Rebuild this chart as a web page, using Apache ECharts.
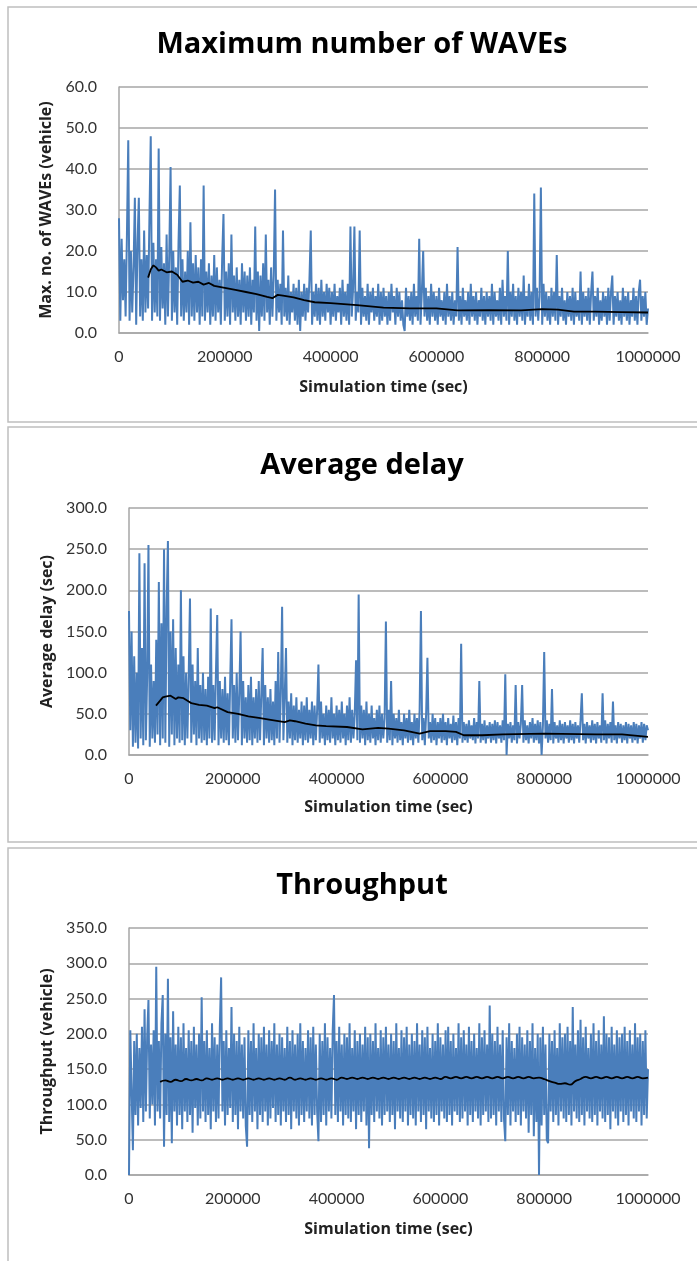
<!DOCTYPE html>
<html>
<head>
    <meta charset="utf-8">
    <title>Simulation results</title>
    <script src="https://cdn.jsdelivr.net/npm/echarts@6/dist/echarts.min.js"></script>
    <style>
        html, body { margin: 0; padding: 0; background: #fff; }
    </style>
</head>
<body>
    <div id="main" style="width: 697px;height:1261px;"></div>
    <script type="text/javascript">
        // sampling step of the raw series (sec)
        var STEP = 2500;

        // Maximum number of WAVEs (vehicle), one value per STEP, 20 values per row
        var wavesRaw = [
            28, 3, 23, 8, 18, 4, 24, 47, 3, 20, 5, 16, 33, 2, 22, 33, 4, 18, 3, 25,
            5, 19, 6, 28, 48, 3, 22, 5, 18, 4, 45, 3, 21, 6, 17, 2, 24, 4, 19, 40.5,
            3, 20, 5, 16, 2, 22, 36, 4, 18, 3, 15, 5, 20, 2, 27, 4, 17, 3, 19, 5,
            16, 2, 18, 4, 36, 3, 15, 5, 17, 2, 14, 4, 19, 3, 16, 5, 13, 2, 18, 29,
            3, 15, 4, 17, 2, 24, 5, 14, 3, 16, 4, 13, 2, 17, 5, 15, 3, 14, 4, 16,
            2, 13, 5, 26, 3, 15, 0.5, 14, 4, 17, 3, 24, 5, 13, 2, 16, 4, 14, 35, 3,
            13, 5, 12, 2, 25, 4, 11, 3, 14, 2, 10, 5, 12, 3, 11, 2, 13, 0.5, 10, 4,
            12, 3, 11, 5, 13, 25, 2, 10, 4, 12, 3, 11, 2, 13, 4, 10, 3, 12, 5, 11,
            2, 10, 4, 12, 3, 9, 5, 11, 2, 13, 4, 10, 3, 12, 2, 26, 4, 11, 26, 3,
            10, 5, 25, 2, 11, 4, 9, 3, 12, 2, 10, 5, 11, 3, 9, 4, 12, 2, 10, 3,
            11, 4, 9, 2, 10, 3, 12, 5, 9, 2, 11, 4, 10, 3, 8, 2, 0.5, 11, 4, 9,
            3, 10, 2, 12, 4, 9, 3, 23, 2, 10, 20, 4, 11, 3, 9, 2, 12, 4, 10, 3,
            9, 2, 11, 4, 8, 3, 10, 2, 12, 4, 9, 3, 10, 2, 8, 4, 21, 3, 9, 2,
            11, 4, 8, 3, 10, 2, 12, 4, 9, 3, 10, 2, 8, 4, 11, 3, 9, 2, 10, 4,
            9, 3, 12, 2, 10, 4, 8, 3, 11, 2, 13, 4, 9, 3, 20, 2, 10, 4, 12, 3,
            9, 2, 11, 4, 10, 3, 14, 2, 9, 4, 12, 3, 10, 2, 34, 4, 11, 3, 9, 35.5,
            2, 12, 4, 10, 3, 9, 2, 11, 4, 10, 3, 19, 2, 9, 4, 11, 3, 8, 2, 10,
            4, 9, 3, 11, 2, 10, 4, 8, 3, 15, 2, 10, 4, 9, 3, 11, 2, 10, 15, 3,
            9, 4, 11, 2, 8, 3, 10, 4, 9, 2, 11, 3, 10, 14, 2, 9, 4, 10, 3, 8,
            2, 11, 4, 9, 3, 10, 2, 8, 4, 11, 3, 9, 2, 10, 13, 3, 9, 4, 10, 2,
            6
        ];
        // moving average trend line
        var wavesAvgTime = [55000, 60000, 65000, 70000, 75000, 80000, 90000, 100000, 110000, 120000,
            130000, 140000, 150000, 160000, 170000, 180000, 200000, 220000, 240000, 260000,
            280000, 290000, 300000, 310000, 330000, 350000, 370000, 400000, 450000, 500000,
            550000, 600000, 640000, 700000, 760000, 800000, 830000, 860000, 900000, 950000, 1000000];
        var wavesAvg = [13.5, 15.5, 16.5, 16, 15.2, 15.5, 14.8, 15, 14.2, 12.5,
            12.8, 12.3, 12.5, 11.8, 12.2, 11.5, 11, 10.5, 10, 9.5,
            8.8, 8.5, 9.3, 9.1, 8.7, 8, 7.5, 7.3, 6.8, 6.2,
            6, 6, 5.5, 5.6, 5.5, 5.8, 5.7, 5.2, 5.2, 5.1, 5];

        // Average delay (sec)
        var delayRaw = [
            175, 30, 150, 10, 120, 15, 100, 8, 245, 20, 130, 12, 233, 18, 95, 255, 10, 110, 20, 90,
            15, 140, 25, 210, 12, 160, 20, 250, 15, 180, 260, 10, 150, 25, 165, 12, 130, 20, 110, 15,
            200, 18, 120, 12, 100, 20, 95, 190, 15, 110, 25, 90, 12, 130, 20, 85, 15, 100, 18, 80,
            12, 95, 20, 178, 15, 85, 18, 100, 170, 12, 90, 20, 80, 15, 95, 18, 75, 12, 90, 165,
            20, 85, 15, 100, 18, 75, 150, 12, 90, 20, 70, 15, 85, 18, 95, 12, 70, 20, 80, 15,
            90, 18, 75, 130, 12, 85, 20, 70, 15, 80, 18, 65, 12, 90, 20, 125, 15, 75, 180, 18,
            70, 130, 15, 65, 20, 75, 12, 60, 18, 70, 15, 55, 20, 65, 12, 60, 18, 70, 15, 55,
            20, 65, 12, 60, 18, 55, 110, 15, 65, 20, 50, 12, 60, 18, 55, 15, 70, 20, 50, 12,
            60, 18, 55, 15, 65, 20, 50, 12, 60, 18, 70, 15, 55, 20, 50, 115, 18, 195, 15, 60,
            20, 55, 12, 65, 18, 50, 15, 60, 20, 45, 12, 55, 18, 60, 15, 50, 20, 45, 162, 15,
            55, 18, 90, 12, 50, 20, 45, 15, 55, 18, 40, 12, 50, 20, 45, 15, 55, 18, 40, 12,
            50, 20, 45, 15, 55, 175, 18, 45, 12, 50, 118, 20, 40, 15, 50, 18, 45, 12, 40, 20,
            45, 15, 50, 18, 40, 12, 45, 20, 38, 15, 48, 18, 40, 12, 45, 20, 135, 15, 40, 18,
            38, 15, 42, 20, 36, 18, 45, 14, 40, 20, 90, 15, 38, 18, 42, 14, 36, 20, 40, 15,
            38, 18, 42, 14, 40, 20, 36, 15, 42, 18, 98, 0, 38, 20, 40, 15, 36, 18, 85, 14,
            40, 20, 38, 85, 15, 42, 18, 36, 14, 40, 20, 45, 15, 38, 18, 42, 14, 40, 0, 36,
            125, 20, 42, 15, 38, 18, 80, 14, 40, 20, 36, 15, 42, 18, 38, 14, 40, 20, 36, 15,
            42, 18, 38, 14, 40, 20, 36, 15, 42, 75, 18, 38, 14, 40, 20, 36, 15, 42, 18, 38,
            14, 40, 20, 36, 15, 75, 18, 42, 14, 38, 20, 40, 15, 65, 18, 36, 14, 40, 20, 38,
            15, 36, 18, 40, 14, 38, 20, 36, 15, 40, 18, 38, 14, 36, 20, 40, 15, 38, 18, 36,
            30
        ];
        var delayAvgTime = [52000, 60000, 65000, 70000, 80000, 90000, 95000, 105000, 115000, 120000,
            135000, 150000, 165000, 170000, 190000, 210000, 230000, 250000, 270000, 300000,
            310000, 320000, 340000, 360000, 380000, 420000, 450000, 480000, 500000, 530000,
            560000, 580000, 610000, 630000, 645000, 680000, 720000, 800000, 900000, 950000, 1000000];
        var delayAvg = [60, 66, 70, 71, 72, 68, 70, 69, 65, 63,
            61, 60, 57, 58, 52, 50, 47, 45, 43, 40,
            42, 41, 38, 36, 35, 34, 31, 33, 32, 30,
            26, 29, 29, 28, 24, 24, 25, 26, 25, 25, 22];

        // Throughput (vehicle)
        var throughputRaw = [
            0, 205, 120, 35, 190, 85, 200, 70, 180, 95, 210, 75, 235, 90, 195, 248, 80, 185, 100, 205,
            70, 295, 90, 190, 80, 215, 255, 40, 200, 85, 278, 75, 195, 45, 232, 90, 185, 70, 210, 85,
            195, 65, 215, 90, 180, 75, 205, 85, 190, 60, 210, 95, 185, 70, 200, 80, 252, 90, 190, 75,
            205, 85, 180, 65, 215, 90, 195, 75, 185, 80, 210, 280, 90, 190, 70, 205, 85, 180, 95, 238,
            75, 200, 85, 190, 65, 210, 90, 185, 80, 195, 70, 40, 205, 85, 190, 75, 215, 90, 180, 65,
            200, 85, 195, 75, 210, 90, 185, 70, 205, 80, 190, 95, 215, 75, 185, 85, 200, 70, 195, 90,
            180, 75, 210, 85, 190, 65, 205, 90, 185, 80, 200, 70, 215, 85, 190, 75, 180, 90, 205, 80,
            195, 70, 210, 85, 185, 90, 48, 200, 75, 190, 85, 215, 70, 195, 90, 180, 80, 205, 255, 85,
            190, 75, 210, 90, 185, 70, 200, 85, 195, 80, 215, 75, 180, 90, 205, 65, 190, 85, 200, 75,
            185, 90, 210, 70, 195, 38, 200, 85, 190, 75, 215, 90, 180, 80, 205, 70, 195, 85, 210, 90,
            185, 75, 200, 85, 190, 65, 215, 90, 180, 80, 205, 75, 195, 90, 210, 70, 185, 85, 200, 80,
            190, 70, 215, 90, 185, 75, 205, 85, 195, 65, 210, 90, 180, 80, 200, 75, 190, 85, 215, 70,
            195, 90, 185, 80, 205, 75, 210, 85, 190, 70, 200, 90, 180, 85, 215, 75, 195, 80, 205, 90,
            185, 70, 210, 85, 190, 75, 200, 90, 180, 80, 215, 70, 195, 85, 205, 90, 185, 75, 240, 80,
            200, 85, 190, 70, 210, 90, 185, 75, 205, 80, 48, 195, 85, 215, 70, 190, 90, 180, 75, 200,
            85, 210, 70, 195, 90, 185, 80, 205, 60, 190, 85, 215, 55, 180, 75, 200, 0, 195, 70, 210,
            85, 185, 50, 45, 200, 90, 190, 75, 205, 85, 180, 70, 215, 90, 195, 80, 200, 75, 210, 85,
            190, 70, 238, 90, 185, 80, 205, 75, 220, 85, 195, 70, 210, 90, 180, 80, 200, 75, 215, 85,
            190, 70, 205, 90, 185, 80, 225, 75, 200, 85, 195, 65, 210, 90, 185, 80, 205, 70, 195, 90,
            200, 75, 210, 85, 190, 70, 205, 90, 185, 80, 215, 75, 195, 90, 200, 70, 190, 85, 205, 80,
            150
        ];
        // trend line, one value every 10000 sec from 60000 sec
        var throughputAvgStart = 60000;
        var throughputAvgStep = 10000;
        var throughputAvg = [
            132, 134, 132, 135, 133, 136, 134, 136, 134, 137,
            135, 137, 135, 137, 135, 137, 135, 137, 135, 137,
            135, 137, 135, 137, 135, 138, 135, 137, 135, 137,
            135, 137, 135, 137, 135, 138, 136, 138, 136, 138,
            136, 138, 136, 138, 136, 138, 136, 138, 136, 138,
            136, 138, 136, 138, 136, 139, 137, 139, 137, 139,
            137, 139, 137, 139, 137, 139, 137, 139, 137, 139,
            137, 139, 137, 138, 136, 133, 131, 129, 130, 128,
            133, 136, 139, 137, 139, 137, 139, 137, 139, 137,
            139, 137, 139, 137, 138
        ];

        var titles = ['Maximum number of WAVEs', 'Average delay', 'Throughput'];
        var yNames = ['Max. no. of WAVEs (vehicle)', 'Average delay (sec)', 'Throughput (vehicle)'];
        var xName = 'Simulation time (sec)';

        function pairs(values) {
            return values.map(function (v, i) { return [i * STEP, v]; });
        }
        function zip(times, values) {
            return times.map(function (t, i) { return [t, values[i]]; });
        }

        var FONT = 'Lato';
        var BOLD_FONT = 'Open Sans';
        var gridColor = '#a6a6a6';
        var blue = '#4a7ebb';

        var grids = [
            { left: 119, right: 49, top: 87, height: 246 },
            { left: 129, right: 49, top: 508, height: 247 },
            { left: 129, right: 49, top: 928, height: 247 }
        ];
        var yMax = [60, 300, 350];
        var yStep = [10, 50, 50];
        var yGap = [60, 70, 70];
        var xGap = [46, 44, 46];
        var titleTop = [25, 446, 866];

        var xAxes = [], yAxes = [];
        for (var i = 0; i < 3; i++) {
            xAxes.push({
                gridIndex: i,
                type: 'value',
                min: 0,
                max: 1000000,
                interval: 200000,
                name: xName,
                nameLocation: 'middle',
                nameGap: xGap[i],
                nameTextStyle: { fontFamily: BOLD_FONT, fontWeight: 'bold', fontSize: 16, color: '#222' },
                axisLine: { show: true, lineStyle: { color: gridColor, width: 1.5 } },
                axisTick: { show: false },
                splitLine: { show: false },
                axisLabel: {
                    fontFamily: FONT, fontSize: 16, color: '#333', margin: 16,
                    formatter: function (v) { return String(v); }
                }
            });
            yAxes.push({
                gridIndex: i,
                type: 'value',
                min: 0,
                max: yMax[i],
                interval: yStep[i],
                name: yNames[i],
                nameLocation: 'middle',
                nameGap: yGap[i],
                nameTextStyle: { fontFamily: BOLD_FONT, fontWeight: 'bold', fontSize: 16, color: '#222' },
                axisLine: { show: true, lineStyle: { color: gridColor, width: 1.5 } },
                axisTick: { show: false },
                splitLine: { show: true, lineStyle: { color: gridColor, width: 1.5 } },
                axisLabel: {
                    fontFamily: FONT, fontSize: 16, color: '#333', margin: 22,
                    formatter: function (v) { return v.toFixed(1); }
                }
            });
        }

        var rawSets = [wavesRaw, delayRaw, throughputRaw];
        var avgSets = [
            zip(wavesAvgTime, wavesAvg),
            zip(delayAvgTime, delayAvg),
            throughputAvg.map(function (v, i) { return [throughputAvgStart + i * throughputAvgStep, v]; })
        ];
        var series = [];
        for (var k = 0; k < 3; k++) {
            series.push({
                type: 'line',
                xAxisIndex: k,
                yAxisIndex: k,
                data: pairs(rawSets[k]),
                showSymbol: false,
                lineStyle: { color: blue, width: 2 },
                itemStyle: { color: blue },
                z: 2
            });
            series.push({
                type: 'line',
                xAxisIndex: k,
                yAxisIndex: k,
                data: avgSets[k],
                showSymbol: false,
                smooth: k === 2,
                lineStyle: { color: '#000', width: 1.8 },
                itemStyle: { color: '#000' },
                z: 3
            });
        }

        var chart = echarts.init(document.getElementById('main'));
        chart.setOption({
            animation: false,
            backgroundColor: '#fff',
            title: titles.map(function (t, i) {
                return {
                    text: t,
                    left: 357,
                    top: titleTop[i],
                    textAlign: 'center',
                    textStyle: { fontFamily: BOLD_FONT, fontWeight: 'bold', fontSize: 29, color: '#000' }
                };
            }),
            graphic: [
                { type: 'rect', shape: { x: 8, y: 7, width: 720, height: 415 }, style: { fill: 'none', stroke: '#bfbfbf', lineWidth: 1.5 }, silent: true },
                { type: 'rect', shape: { x: 8, y: 427, width: 720, height: 415 }, style: { fill: 'none', stroke: '#bfbfbf', lineWidth: 1.5 }, silent: true },
                { type: 'rect', shape: { x: 8, y: 848, width: 720, height: 430 }, style: { fill: 'none', stroke: '#bfbfbf', lineWidth: 1.5 }, silent: true }
            ],
            grid: grids,
            xAxis: xAxes,
            yAxis: yAxes,
            series: series
        });
    </script>
</body>
</html>
